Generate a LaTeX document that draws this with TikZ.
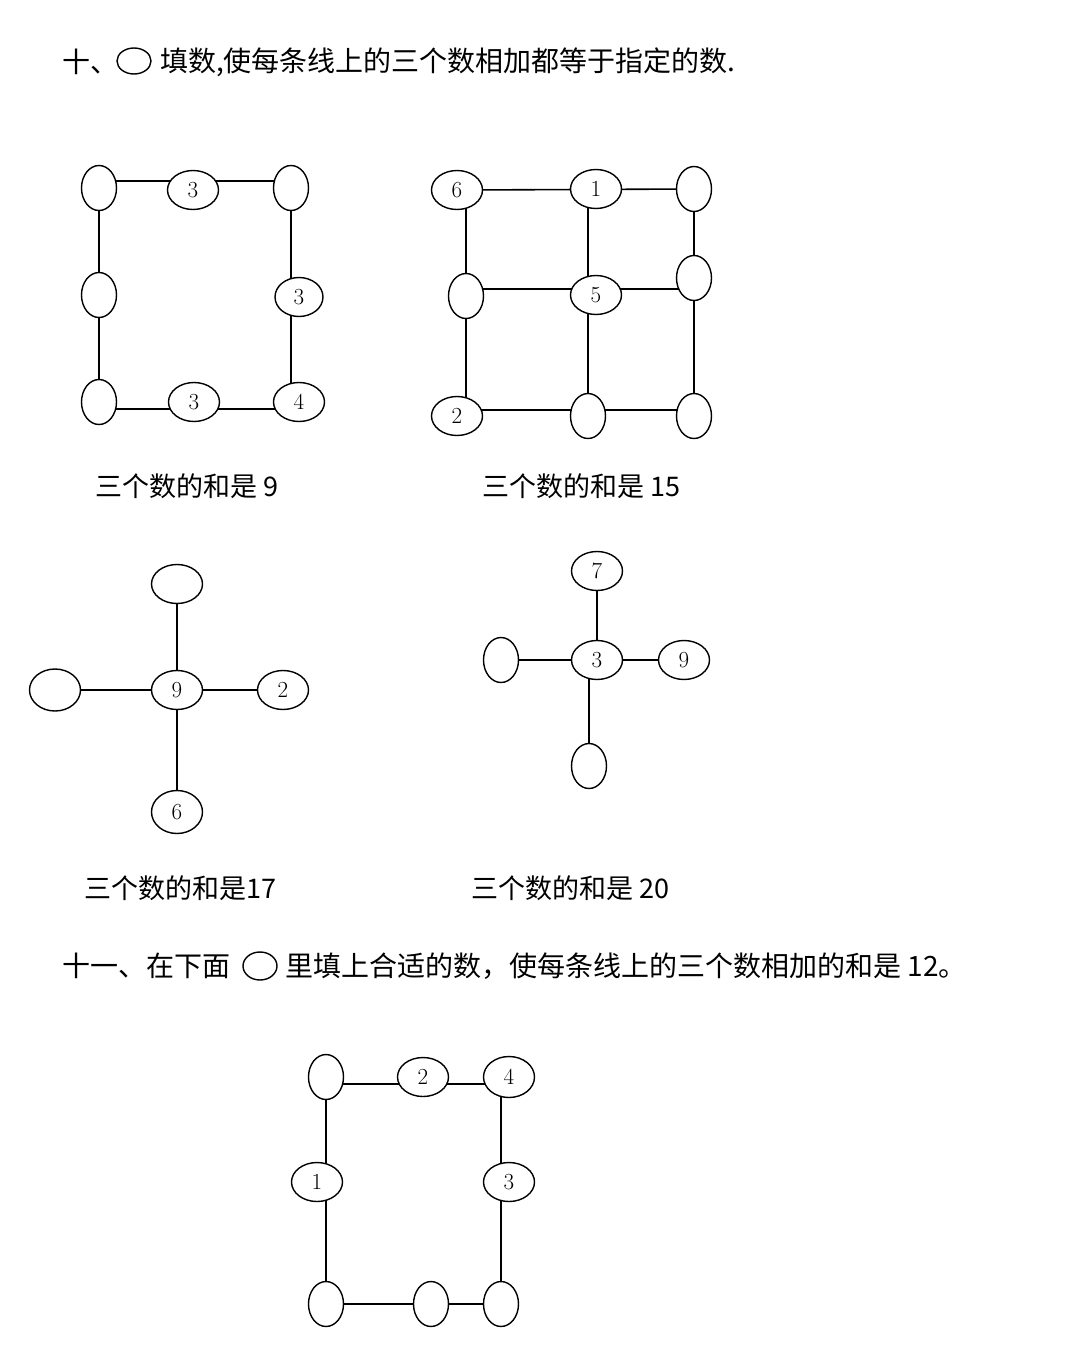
\documentclass[tikz,border=0pt]{standalone}
\usepackage{fontspec}
\newfontfamily\cjk{Noto Sans CJK SC}
\usetikzlibrary{shapes.geometric}
\begin{document}
\begin{tikzpicture}[x=1pt,y=-1pt,
  el/.style={draw,line width=1.4pt,ellipse,inner sep=0pt,minimum width=#1,font=\fontsize{23}{23}\selectfont,fill=white},
  v/.style={el=35pt,minimum height=45pt},
  h/.style={el=51pt,minimum height=39pt},
  ln/.style={line width=1.6pt},
  tx/.style={font=\cjk\fontsize{27}{30}\selectfont,anchor=west,inner sep=0pt},
  tt/.style={font=\cjk\fontsize{28}{30}\selectfont,anchor=west,inner sep=0pt}]
\useasboundingbox (0,0) rectangle (1080,1346);
% title 10
\node[tt] (t1a) at (62,62) {十、};
\node[draw,line width=1.4pt,ellipse,minimum width=34pt,minimum height=26pt,inner sep=0pt] (t1c) at (134,61) {};
\node[tt] (t1b) at (160,62) {填数,使每条线上的三个数相加都等于指定的数.};
% diagram 1
\coordinate (a1c) at (99,181); \coordinate (a3c) at (291,181);
\coordinate (a6c) at (99,409); \coordinate (a8c) at (291,409);
\draw[ln] (a1c) -- (a3c) -- (a8c) -- (a6c) -- cycle;
\node[v] (a1) at (99,188) {};
\node[h] (a2) at (193,190) {3};
\node[v] (a3) at (291,188) {};
\node[v] (a4) at (99,295) {};
\node[h,minimum width=48pt] (a5) at (299,297) {3};
\node[v] (a6) at (99,402) {};
\node[h] (a7) at (194,402) {3};
\node[h] (a8) at (299,402) {4};
\node[tx] (l1) at (95,486) {三个数的和是 9};
% diagram 2
\coordinate (c6) at (466,190); \coordinate (c2) at (466,410);
\coordinate (ctop) at (588,189); \coordinate (cbot) at (588,410);
\coordinate (ctr) at (694,189); \coordinate (cbr) at (694,410);
\coordinate (cml) at (466,289); \coordinate (cmm) at (596,289); \coordinate (cmr) at (694,289);
\draw[ln] (c6) -- (ctr);
\draw[ln] (cml) -- (cmm) -- (cmr);
\draw[ln] (c2) -- (cbr);
\draw[ln] (c6) -- (c2);
\draw[ln] (ctop) -- (cbot);
\draw[ln] (ctr) -- (cbr);
\node[h] (b1) at (457,190) {6};
\node[h] (b2) at (596,189) {1};
\node[v] (b3) at (694,189) {};
\node[v] (b4) at (466,296) {};
\node[h] (b5) at (596,295) {5};
\node[v] (b6) at (694,278) {};
\node[h] (b7) at (457,416) {2};
\node[v] (b8) at (588,416) {};
\node[v] (b9) at (694,416) {};
\node[tx] (l2) at (482,486) {三个数的和是 15};
% diagram 3
\node[h] (d1) at (177,584) {};
\node[h,minimum height=42pt] (d2) at (55,690) {};
\node[h] (d3) at (177,690) {9};
\node[h] (d4) at (283,690) {2};
\node[h,minimum height=43pt] (d5) at (177,812) {6};
\draw[ln] (d1) -- (d3) -- (d5);
\draw[ln] (d2) -- (d3) -- (d4);
\node[tx] (l3) at (84,888) {三个数的和是17};
% diagram 4
\node[h] (e1) at (597,571) {7};
\node[v] (e2) at (501,660) {};
\node[h] (e3) at (597,660) {3};
\node[h] (e4) at (684,660) {9};
\node[v] (e5) at (589,766) {};
\coordinate (e3b) at (589,679);
\draw[ln] (e1) -- (e3);
\draw[ln] (e3b) -- (e5);
\draw[ln] (e2) -- (e3) -- (e4);
\node[tx] (l4) at (471,888) {三个数的和是 20};
% title 11
\node[tt] (t2a) at (62,966) {十一、在下面};
\node[draw,line width=1.4pt,ellipse,minimum width=34pt,minimum height=28pt,inner sep=0pt] (t2c) at (260,966) {};
\node[tt] (t2b) at (285,966) {里填上合适的数，使每条线上的三个数相加的和是 12。};
% diagram 5
\coordinate (f1c) at (326,1084); \coordinate (f3c) at (501,1084);
\coordinate (f6c) at (326,1304); \coordinate (f8c) at (501,1304);
\draw[ln] (f1c) -- (f3c) -- (f8c) -- (f6c) -- cycle;
\node[v] (f1) at (326,1077) {};
\node[h] (f2) at (423,1077) {2};
\node[h,minimum height=41pt] (f3) at (509,1077) {4};
\node[h] (f4) at (317,1182) {1};
\node[h] (f5) at (509,1182) {3};
\node[v] (f6) at (326,1304) {};
\node[v] (f7) at (431,1304) {};
\node[v] (f8) at (501,1304) {};
\end{tikzpicture}
\end{document}
